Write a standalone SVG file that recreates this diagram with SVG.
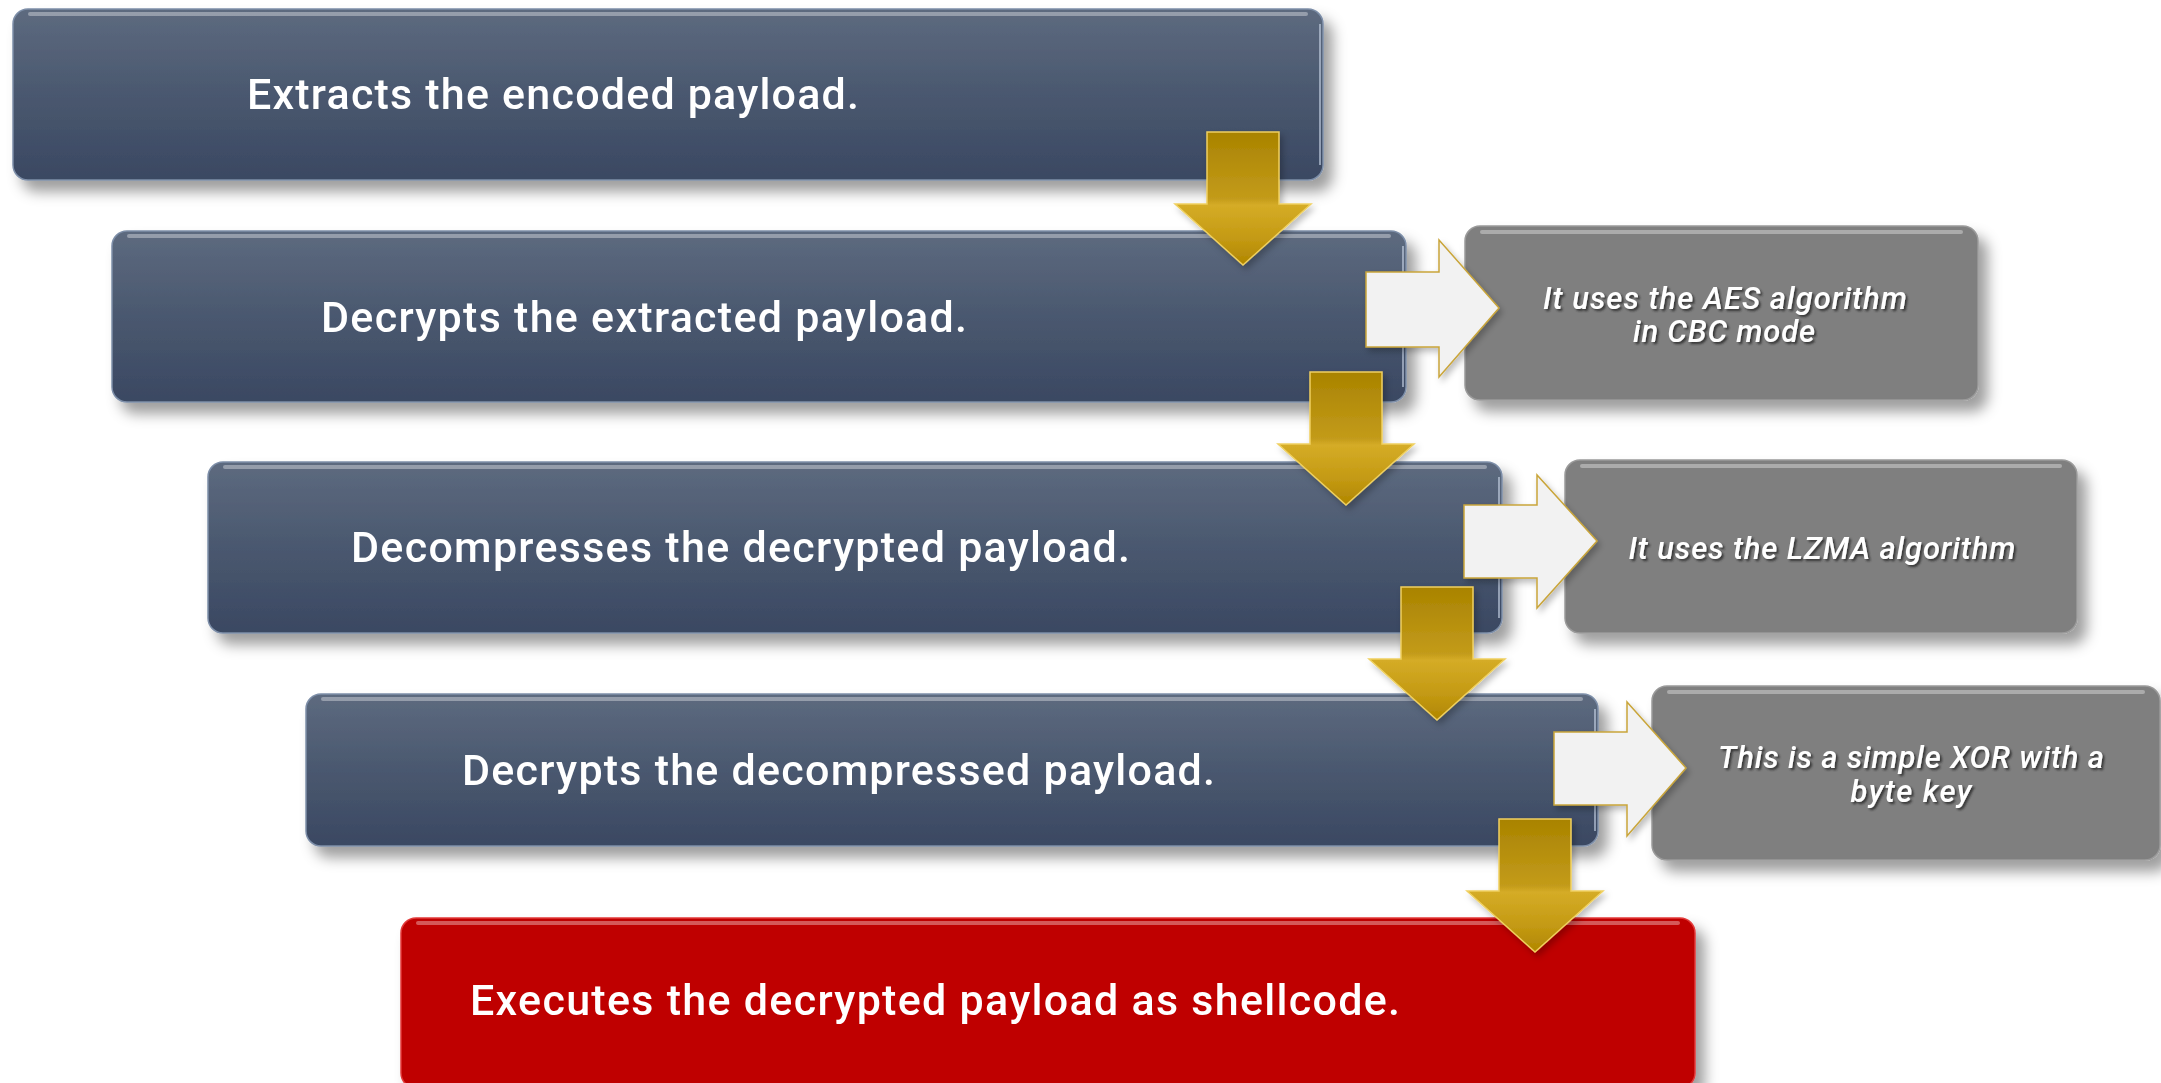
<svg xmlns="http://www.w3.org/2000/svg" width="2161" height="1083" viewBox="0 0 2161 1083">
  <defs>
    <linearGradient id="navy" x1="0" y1="0" x2="0" y2="1">
      <stop offset="0" stop-color="#5d6a7f"/>
      <stop offset="0.5" stop-color="#4a586f"/>
      <stop offset="1" stop-color="#3a4862"/>
    </linearGradient>
    <linearGradient id="gold" x1="0" y1="0" x2="0" y2="1">
      <stop offset="0" stop-color="#a98300"/>
      <stop offset="0.5" stop-color="#c39b1a"/>
      <stop offset="0.55" stop-color="#d5ac26"/>
      <stop offset="0.8" stop-color="#c49a14"/>
      <stop offset="1" stop-color="#b08600"/>
    </linearGradient>
    <filter id="shadow" x="-5%" y="-20%" width="115%" height="150%">
      <feDropShadow dx="9" dy="11" stdDeviation="7" flood-color="#000" flood-opacity="0.38"/>
    </filter>
    <filter id="softshadow" x="-20%" y="-20%" width="150%" height="150%">
      <feDropShadow dx="3" dy="4" stdDeviation="3" flood-color="#000" flood-opacity="0.25"/>
    </filter>
    <filter id="txtshadow" x="-5%" y="-30%" width="110%" height="160%">
      <feDropShadow dx="2" dy="2" stdDeviation="1.3" flood-color="#2a2a2a" flood-opacity="0.85"/>
    </filter>
    <!-- down arrow, origin at the top-centre of its shaft -->
    <path id="down" d="M-36,0 H36 V72 H68 L0,133 L-68,72 H-36 Z"/>
  </defs>
  <style>
    .step { fill: url(#navy); stroke: #7d8ea8; stroke-width: 1.5; }
    .final { fill: #bf0000; stroke: #e23a3a; stroke-width: 1.5; }
    .note { fill: #7f7f7f; stroke: #9a9a9a; stroke-width: 1.5; }
    .hl { fill: none; stroke: #ffffff; stroke-opacity: 0.35; stroke-width: 4; stroke-linecap: round; }
    .edge { fill: none; stroke: #c9d6e8; stroke-opacity: 0.6; stroke-width: 2; }
    .label { font-family: Roboto, "Liberation Sans", sans-serif; font-weight: 500; font-size: 43px; fill: #ffffff; }
    .notetext { font-family: Roboto, "Liberation Sans", sans-serif; font-style: italic; font-weight: 500; font-size: 31px; fill: #ffffff; text-anchor: middle; }
    .gold { fill: url(#gold); stroke: #efd060; stroke-width: 1.5; }
    .white { fill: #f2f2f2; stroke: #c9a53a; stroke-width: 1.5; }
  </style>

  <!-- main pipeline steps -->
  <g id="step1" filter="url(#shadow)">
    <rect class="step" x="13" y="9" width="1310" height="171" rx="15"/>
    <line class="hl" x1="30" y1="14" x2="1306" y2="14"/>
    <path class="edge" d="M1320,24 V165"/>
    <text class="label" x="247" y="109" textLength="612" lengthAdjust="spacing">Extracts the encoded payload.</text>
  </g>
  <g id="step2" filter="url(#shadow)">
    <rect class="step" x="112" y="231" width="1294" height="171" rx="15"/>
    <line class="hl" x1="129" y1="236" x2="1389" y2="236"/>
    <path class="edge" d="M1403,246 V387"/>
    <text class="label" x="321" y="332" textLength="646" lengthAdjust="spacing">Decrypts the extracted payload.</text>
  </g>
  <g id="step3" filter="url(#shadow)">
    <rect class="step" x="208" y="462" width="1294" height="171" rx="15"/>
    <line class="hl" x1="225" y1="467" x2="1485" y2="467"/>
    <path class="edge" d="M1499,477 V618"/>
    <text class="label" x="351" y="562" textLength="779" lengthAdjust="spacing">Decompresses the decrypted payload.</text>
  </g>
  <g id="step4" filter="url(#shadow)">
    <rect class="step" x="306" y="694" width="1292" height="152" rx="15"/>
    <line class="hl" x1="323" y1="699" x2="1581" y2="699"/>
    <path class="edge" d="M1595,709 V831"/>
    <text class="label" x="462" y="785" textLength="753" lengthAdjust="spacing">Decrypts the decompressed payload.</text>
  </g>
  <g id="step5" filter="url(#shadow)">
    <rect class="final" x="401" y="918" width="1294" height="170" rx="15"/>
    <line class="hl" x1="418" y1="923" x2="1678" y2="923" stroke-opacity="0.45"/>
    <text class="label" x="470" y="1015" textLength="930" lengthAdjust="spacing">Executes the decrypted payload as shellcode.</text>
  </g>

  <!-- side notes -->
  <g id="note-aes" filter="url(#shadow)">
    <rect class="note" x="1465" y="226" width="513" height="174" rx="15"/>
    <line class="hl" x1="1482" y1="232" x2="1961" y2="232"/>
    <g filter="url(#txtshadow)">
      <text class="notetext" x="1725" y="309" textLength="364" lengthAdjust="spacing">It uses the AES algorithm</text>
      <text class="notetext" x="1724" y="342" textLength="182" lengthAdjust="spacing">in CBC mode</text>
    </g>
  </g>
  <g id="note-lzma" filter="url(#shadow)">
    <rect class="note" x="1565" y="460" width="512" height="173" rx="15"/>
    <line class="hl" x1="1582" y1="466" x2="2060" y2="466"/>
    <g filter="url(#txtshadow)">
      <text class="notetext" x="1822" y="559" textLength="387" lengthAdjust="spacing">It uses the LZMA algorithm</text>
    </g>
  </g>
  <g id="note-xor" filter="url(#shadow)">
    <rect class="note" x="1652" y="686" width="508" height="174" rx="15"/>
    <line class="hl" x1="1669" y1="692" x2="2143" y2="692"/>
    <g filter="url(#txtshadow)">
      <text class="notetext" x="1911" y="768" textLength="386" lengthAdjust="spacing">This is a simple XOR with a</text>
      <text class="notetext" x="1911" y="802" textLength="121" lengthAdjust="spacing">byte key</text>
    </g>
  </g>

  <!-- connectors -->
  <g id="connectors">
    <g filter="url(#softshadow)">
      <path class="white" d="M1366,272 H1439 V240 L1499,308 L1439,377 V347 H1366 Z"/>
      <path class="white" d="M1464,505 H1537 V475 L1597,541 L1537,608 V578 H1464 Z"/>
      <path class="white" d="M1554,732 H1627 V702 L1686,768 L1627,836 V805 H1554 Z"/>
    </g>
    <g filter="url(#softshadow)">
      <use href="#down" class="gold" transform="translate(1243,132)"/>
      <use href="#down" class="gold" transform="translate(1346,372)"/>
      <use href="#down" class="gold" transform="translate(1437,587)"/>
      <use href="#down" class="gold" transform="translate(1535,819)"/>
    </g>
  </g>
</svg>
